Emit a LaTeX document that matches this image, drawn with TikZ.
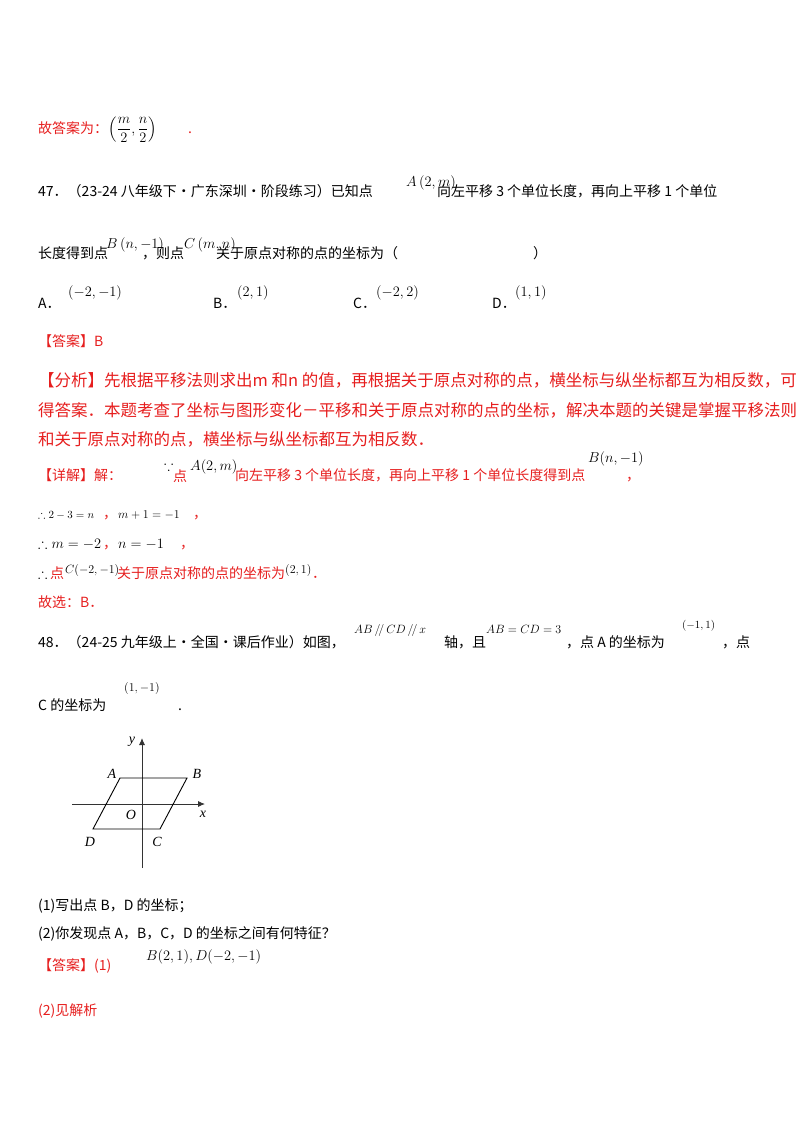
\documentclass[tikz,border=0pt]{standalone}
\usepackage{amsmath,amssymb}
\usepackage{fontspec}
\setmainfont{Liberation Serif}
\newfontfamily\cjk{Noto Sans CJK SC}
\usetikzlibrary{arrows.meta}
\definecolor{ansred}{RGB}{230,30,30}
\begin{document}
\begin{tikzpicture}[x=1pt,y=-1pt,
  t/.style={anchor=base west,inner sep=0pt,font=\fontsize{14}{16}\selectfont\cjk},
  r/.style={t,text=ansred},
  m/.style={anchor=base west,inner sep=0pt,font=\fontsize{14}{16}\selectfont},
  rs/.style={t,text=ansred,font=\fontsize{16.5}{18}\selectfont\cjk},
  ax/.style={line width=0.9pt,gray!40!black,-{Latex[length=7pt,width=6pt]}},
  lbl/.style={inner sep=0pt,font=\fontsize{14}{16}\selectfont\itshape}]
\useasboundingbox (0,0) rectangle (800,1132);
% top
\node[r] (l0) at (38,133) {故答案为：};
\node[m] (l0m) at (108,133) {$\left(\displaystyle\frac{m}{2},\frac{n}{2}\right)$};
\node[r] (l0p) at (188,133) {.};
% 47
\node[t] (q1) at (38,196) {47．（23-24 八年级下·广东深圳·阶段练习）已知点};
\node[m] (q1a) at (406,186) {$A\left(2,m\right)$};
\node[t] (q1b) at (437,196) {向左平移 3 个单位长度，再向上平移 1 个单位};
\node[t] (q2) at (38,258) {长度得到点};
\node[m] (q2a) at (106,248) {$B\left(n,-1\right)$};
\node[t] (q2b) at (142,258) {，则点};
\node[m] (q2c) at (184,248) {$C\left(m,n\right)$};
\node[t] (q2d) at (216,258) {关于原点对称的点的坐标为（};
\node[t] (q2e) at (533,258) {）};
\node[t] (oa) at (38,308) {A．}; \node[m] (oa2) at (68,296) {$\left(-2,-1\right)$};
\node[t] (ob) at (213,308) {B．}; \node[m] (ob2) at (237,296) {$\left(2,1\right)$};
\node[t] (oc) at (353,308) {C．}; \node[m] (oc2) at (376,296) {$\left(-2,2\right)$};
\node[t] (od) at (492,308) {D．}; \node[m] (od2) at (515,296) {$\left(1,1\right)$};
% answer
\node[r] (ans) at (38,346) {【答案】B};
\node[rs] (f1) at (38,386) {【分析】先根据平移法则求出\textit{m} 和\textit{n} 的值，再根据关于原点对称的点，横坐标与纵坐标都互为相反数，可};
\node[rs] (f2) at (38,416) {得答案．本题考查了坐标与图形变化－平移和关于原点对称的点的坐标，解决本题的关键是掌握平移法则};
\node[rs] (f3) at (38,445) {和关于原点对称的点，横坐标与纵坐标都互为相反数．};
\node[r] (d1) at (38,480) {【详解】解：};
\node[m] (d1a) at (164,470) {$\because$};
\node[r] (d1b) at (173,481) {点};
\node[m] (d1c) at (190,470) {$A(2,m)$};
\node[r] (d1d) at (235,480) {向左平移 3 个单位长度，再向上平移 1 个单位长度得到点};
\node[m] (d1e) at (588,462) {$B(n,-1)$};
\node[r] (d1f) at (626,480) {，};
\node[m,font=\fontsize{11}{13}\selectfont] (e1) at (38,518) {$\therefore 2-3=n$};
\node[r] (e1b) at (103,518) {，};
\node[m,font=\fontsize{12}{13}\selectfont] (e1c) at (118,518) {$m+1=-1$};
\node[r] (e1d) at (193,518) {，};
\node[m] (e2) at (38,548) {$\therefore m=-2$};
\node[r] (e2b) at (103,548) {，};
\node[m] (e2c) at (118,548) {$n=-1$};
\node[r] (e2d) at (180,548) {，};
\node[m] (e3) at (38,578) {$\therefore$};
\node[r] (e3b) at (50,578) {点};
\node[m,font=\fontsize{12}{13}\selectfont] (e3c) at (65,573) {$C(-2,-1)$};
\node[r] (e3d) at (117,578) {关于原点对称的点的坐标为};
\node[m,font=\fontsize{12}{13}\selectfont] (e3e) at (285,573) {$(2,1)$};
\node[r] (e3f) at (312,578) {．};
\node[r] (gx) at (38,607) {故选：B．};
% 48
\node[t] (p1) at (38,647) {48．（24-25 九年级上·全国·课后作业）如图，};
\node[m,font=\fontsize{12}{13}\selectfont] (p1a) at (354,633) {$AB\,/\!/\,CD\,/\!/\,x$};
\node[t] (p1b) at (444,647) {轴，且};
\node[m,font=\fontsize{12}{13}\selectfont] (p1c) at (486,633) {$AB=CD=3$};
\node[t] (p1d) at (566,647) {，点 \textit{A} 的坐标为};
\node[m,font=\fontsize{11}{13}\selectfont] (p1e) at (682,628) {$(-1,1)$};
\node[t] (p1f) at (722,647) {，点};
\node[t] (p2) at (38,710) {\textit{C} 的坐标为};
\node[m,font=\fontsize{12}{13}\selectfont] (p2a) at (124,691) {$(1,-1)$};
\node[t] (p2b) at (178,710) {.};
% diagram
\coordinate (xs) at (72,804); \coordinate (xe) at (205,804);
\coordinate (ys) at (142,868); \coordinate (ye) at (142,738);
\draw[ax] (xs) -- (xe);
\draw[ax] (ys) -- (ye);
\coordinate (A) at (120,778); \coordinate (B) at (187,778);
\coordinate (C) at (160,829); \coordinate (D) at (93,829);
\draw[line width=0.9pt] (A) -- (B) -- (C) -- (D) -- cycle;
\node[lbl] (lA) at (112,774) {A};
\node[lbl] (lB) at (197,774) {B};
\node[lbl] (lC) at (157,842) {C};
\node[lbl] (lD) at (90,842) {D};
\node[lbl] (lO) at (131,815) {O};
\node[lbl] (lx) at (203,814) {x};
\node[lbl] (ly) at (132,742) {y};
% questions
\node[t] (s1) at (38,910) {(1)写出点 \textit{B}，\textit{D} 的坐标；};
\node[t] (s2) at (38,938) {(2)你发现点 \textit{A}，\textit{B}，\textit{C}，\textit{D} 的坐标之间有何特征？};
\node[r] (s3) at (38,970) {【答案】(1)};
\node[m] (s3a) at (146,960) {$B(2,1),D(-2,-1)$};
\node[r] (s4) at (38,1015) {(2)见解析};
\end{tikzpicture}
\end{document}
